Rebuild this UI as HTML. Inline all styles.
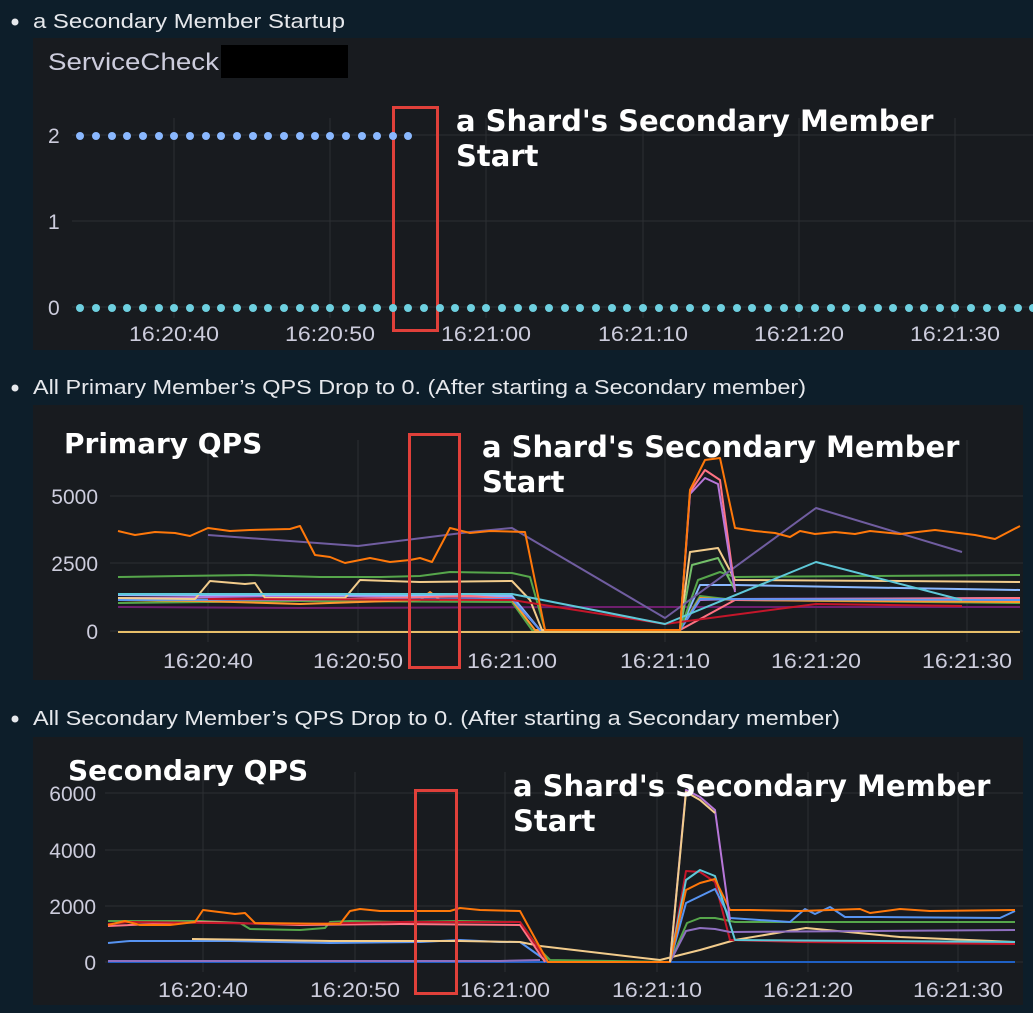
<!DOCTYPE html>
<html><head><meta charset="utf-8"><style>
html,body{margin:0;padding:0;background:#0d1e2a;width:1033px;height:1013px;overflow:hidden}
svg{display:block}
text{font-family:"Liberation Sans",sans-serif}
</style></head><body>
<svg width="1033" height="1013" viewBox="0 0 1033 1013" xmlns="http://www.w3.org/2000/svg">
<rect width="1033" height="1013" fill="#0d1e2a"/>
<g fill="#e6e8ec" font-size="20">
<circle cx="15" cy="22" r="3.5"/><text x="33" y="28" textLength="312" lengthAdjust="spacingAndGlyphs">a Secondary Member Startup</text>
<circle cx="15" cy="388" r="3.5"/><text x="33" y="394" textLength="773" lengthAdjust="spacingAndGlyphs">All Primary Member’s QPS Drop to 0. (After starting a Secondary member)</text>
<circle cx="15" cy="719" r="3.5"/><text x="33" y="725" textLength="807" lengthAdjust="spacingAndGlyphs">All Secondary Member’s QPS Drop to 0. (After starting a Secondary member)</text>
</g>

<!-- Panel 1 -->
<rect x="33" y="38" width="1000" height="312" fill="#181b1f"/>
<text x="48" y="70" fill="#ccccdc" font-size="24" textLength="171" lengthAdjust="spacingAndGlyphs">ServiceCheck</text>
<rect x="221" y="45" width="127" height="33" fill="#000"/>
<g stroke="#2c2f33" stroke-width="1">
<line x1="72" y1="135" x2="1033" y2="135"/><line x1="72" y1="221" x2="1033" y2="221"/><line x1="72" y1="307" x2="1033" y2="307"/>
<line x1="174" y1="118" x2="174" y2="318"/><line x1="330" y1="118" x2="330" y2="318"/><line x1="486" y1="118" x2="486" y2="318"/>
<line x1="643" y1="118" x2="643" y2="318"/><line x1="799" y1="118" x2="799" y2="318"/><line x1="955" y1="118" x2="955" y2="318"/>
</g>
<g fill="#ccccdc" font-size="21">
<text x="48" y="143">2</text><text x="48" y="229">1</text><text x="48" y="315">0</text>
<g text-anchor="middle"><text x="174" y="341" textLength="90" lengthAdjust="spacingAndGlyphs">16:20:40</text><text x="330" y="341" textLength="90" lengthAdjust="spacingAndGlyphs">16:20:50</text><text x="486" y="341" textLength="90" lengthAdjust="spacingAndGlyphs">16:21:00</text><text x="643" y="341" textLength="90" lengthAdjust="spacingAndGlyphs">16:21:10</text><text x="799" y="341" textLength="90" lengthAdjust="spacingAndGlyphs">16:21:20</text><text x="955" y="341" textLength="90" lengthAdjust="spacingAndGlyphs">16:21:30</text></g>
</g>
<rect x="393.5" y="107.5" width="44" height="223" fill="none" stroke="#e0403a" stroke-width="3"/>
<g fill="#fff" font-weight="bold" font-size="29">
<text x="456" y="131" style="font-family:'DejaVu Sans',sans-serif">a Shard's Secondary Member</text>
<text x="456" y="166" style="font-family:'DejaVu Sans',sans-serif">Start</text>
</g>

<!-- Panel 2 -->
<rect x="33" y="405" width="990" height="275" fill="#181b1f"/>
<g stroke="#2c2f33" stroke-width="1">
<line x1="110" y1="496" x2="1023" y2="496"/><line x1="110" y1="563" x2="1023" y2="563"/><line x1="110" y1="631" x2="1023" y2="631"/>
<line x1="208" y1="440" x2="208" y2="642"/><line x1="358" y1="440" x2="358" y2="642"/><line x1="512" y1="440" x2="512" y2="642"/>
<line x1="665" y1="440" x2="665" y2="642"/><line x1="816" y1="440" x2="816" y2="642"/><line x1="967" y1="440" x2="967" y2="642"/>
</g>
<g fill="#ccccdc" font-size="21" text-anchor="end">
<text x="98" y="504">5000</text><text x="98" y="571">2500</text><text x="98" y="639">0</text>
</g>
<g fill="#ccccdc" font-size="21" text-anchor="middle">
<text x="208" y="668" textLength="90" lengthAdjust="spacingAndGlyphs">16:20:40</text><text x="358" y="668" textLength="90" lengthAdjust="spacingAndGlyphs">16:20:50</text><text x="512" y="668" textLength="90" lengthAdjust="spacingAndGlyphs">16:21:00</text><text x="665" y="668" textLength="90" lengthAdjust="spacingAndGlyphs">16:21:10</text><text x="816" y="668" textLength="90" lengthAdjust="spacingAndGlyphs">16:21:20</text><text x="967" y="668" textLength="90" lengthAdjust="spacingAndGlyphs">16:21:30</text>
</g>
<g fill="none" stroke-width="2" stroke-linejoin="round">
<polyline stroke="#e8c06a" points="118,632 1020,632"/>
<polyline stroke="#6e1f6e" points="118,607 300,608 600,607 1020,607"/>
<polyline stroke="#56a64b" points="118,603 300,601 512,602 532,630 680,630 700,596 735,600 1020,603"/>
<polyline stroke="#ff9830" points="118,600 200,601 300,604 420,600 430,592 440,600 512,600 535,630 680,630 700,598 735,600 1020,602"/>
<polyline stroke="#b877d9" points="118,598 300,596 512,597 540,630 680,630 700,600 735,599 1020,598"/>
<polyline stroke="#8ab8ff" points="118,595 300,595 512,596 540,630 680,630 700,585 735,585 900,588 1020,590"/>
<polyline stroke="#ff7383" points="118,599 300,600 470,596 512,599 540,630 680,630 735,600 1020,598"/>
<polyline stroke="#5794f2" points="118,600 512,599 540,630 680,630 700,599 1020,600"/>
<polyline stroke="#56a64b" points="118,577 180,576 250,575 320,577 380,577 420,576 450,572 512,573 530,577 545,630 680,630 698,580 720,572 735,577 1020,575"/>
<polyline stroke="#f2cc8c" points="118,598 195,599 210,581 245,584 255,583 265,598 345,598 360,580 420,582 512,581 530,600 542,630 680,630 690,552 718,548 735,580 900,581 1020,582"/>
<polyline stroke="#73bf69" points="680,630 692,565 718,558 735,590"/>
<polyline stroke="#c4162a" points="208,599 512,600 665,624 816,604 962,606"/>
<polyline stroke="#5ec8d8" points="118,594 512,594 665,624 816,562 962,600"/>
<polyline stroke="#705da0" points="208,535 358,546 470,532 512,528 665,618 816,508 962,552"/>
<polyline stroke="#ff7383" points="680,630 690,492 705,470 720,480 735,590"/>
<polyline stroke="#b877d9" points="680,630 690,494 705,478 718,484 735,592"/>
<polyline stroke="#ff780a" points="118,531 135,535 155,532 175,533 190,536 208,528 230,531 250,530 290,529 300,526 315,555 330,557 345,563 370,558 390,562 410,560 420,558 432,562 450,528 470,533 490,531 525,532 545,630 680,630 690,490 705,460 720,458 735,528 755,531 775,533 790,537 800,531 815,534 835,532 855,534 870,531 900,534 935,530 975,535 995,539 1020,526"/>
</g>
<rect x="409.5" y="434.5" width="50" height="233" fill="none" stroke="#e0403a" stroke-width="3"/>
<g fill="#fff" font-weight="bold" font-size="29">
<text x="64" y="453" style="font-family:'DejaVu Sans',sans-serif" font-size="28">Primary QPS</text>
<text x="482" y="457" style="font-family:'DejaVu Sans',sans-serif">a Shard's Secondary Member</text>
<text x="482" y="492" style="font-family:'DejaVu Sans',sans-serif">Start</text>
</g>

<!-- Panel 3 -->
<rect x="33" y="737" width="990" height="268" fill="#181b1f"/>
<g stroke="#2c2f33" stroke-width="1">
<line x1="105" y1="793" x2="1023" y2="793"/><line x1="105" y1="850" x2="1023" y2="850"/><line x1="105" y1="906" x2="1023" y2="906"/><line x1="105" y1="962" x2="1023" y2="962"/>
<line x1="203" y1="772" x2="203" y2="972"/><line x1="355" y1="772" x2="355" y2="972"/><line x1="505" y1="772" x2="505" y2="972"/>
<line x1="657" y1="772" x2="657" y2="972"/><line x1="808" y1="772" x2="808" y2="972"/><line x1="958" y1="772" x2="958" y2="972"/>
</g>
<g fill="#ccccdc" font-size="21" text-anchor="end">
<text x="96" y="801">6000</text><text x="96" y="858">4000</text><text x="96" y="914">2000</text><text x="96" y="970">0</text>
</g>
<g fill="#ccccdc" font-size="21" text-anchor="middle">
<text x="203" y="997" textLength="90" lengthAdjust="spacingAndGlyphs">16:20:40</text><text x="355" y="997" textLength="90" lengthAdjust="spacingAndGlyphs">16:20:50</text><text x="505" y="997" textLength="90" lengthAdjust="spacingAndGlyphs">16:21:00</text><text x="657" y="997" textLength="90" lengthAdjust="spacingAndGlyphs">16:21:10</text><text x="808" y="997" textLength="90" lengthAdjust="spacingAndGlyphs">16:21:20</text><text x="958" y="997" textLength="90" lengthAdjust="spacingAndGlyphs">16:21:30</text>
</g>
<g fill="none" stroke-width="2" stroke-linejoin="round">
<polyline stroke="#1f60c4" points="108,962 1015,962"/>
<polyline stroke="#8f6fc0" points="108,961 500,961 540,960"/>
<polyline stroke="#5794f2" points="108,943 130,941 230,941 330,943 420,942 460,940 500,942 520,942 548,962 670,962"/>
<polyline stroke="#f2cc8c" points="192,939 330,941 460,941 520,942 540,946 660,960 700,950 735,940 806,928 900,937 1015,942"/>
<polyline stroke="#56a64b" points="108,921 200,921 240,923 250,929 300,930 325,928 330,922 350,921 400,922 460,921 520,922 540,950 550,960 670,962 687,923 700,918 715,918 735,922 1015,922"/>
<polyline stroke="#ff7383" points="108,926 200,922 300,925 400,924 520,925 545,962"/>
<polyline stroke="#c4162a" points="108,924 130,922 300,924 400,922 520,922 548,962 670,962 686,871 700,872 715,882 730,940 800,942 1015,944"/>
<polyline stroke="#8f6fc0" points="670,962 686,931 700,928 715,929 730,932 1015,930"/>
<polyline stroke="#5794f2" points="670,962 686,903 715,889 730,918 790,922 805,909 815,914 830,907 845,917 880,917 1000,918 1015,911"/>
<polyline stroke="#5ec8d8" points="670,962 686,880 700,870 715,876 735,940 1015,942"/>
<polyline stroke="#ff780a" points="108,925 125,921 140,925 170,925 195,922 203,910 235,914 245,913 255,923 340,924 350,911 360,909 380,911 420,911 450,911 460,908 480,910 520,911 548,962 670,962 686,890 700,883 715,879 730,910 750,910 800,911 830,910 860,909 870,913 900,909 930,911 1015,910"/>
<polyline stroke="#b877d9" points="670,962 686,790 700,797 715,810 730,920"/>
<polyline stroke="#f2cc8c" points="670,962 686,792 700,800 715,813"/>
</g>
<rect x="415.5" y="790.5" width="41" height="203" fill="none" stroke="#e0403a" stroke-width="3"/>
<g fill="#fff" font-weight="bold" font-size="29">
<text x="68" y="780" style="font-family:'DejaVu Sans',sans-serif" font-size="28">Secondary QPS</text>
<text x="513" y="796" style="font-family:'DejaVu Sans',sans-serif">a Shard's Secondary Member</text>
<text x="513" y="831" style="font-family:'DejaVu Sans',sans-serif">Start</text>
</g>

<g fill="#8ab8ff">
<circle cx="80" cy="136" r="4"/><circle cx="96" cy="136" r="4"/><circle cx="112" cy="136" r="4"/><circle cx="127" cy="136" r="4"/><circle cx="143" cy="136" r="4"/><circle cx="159" cy="136" r="4"/><circle cx="174" cy="136" r="4"/><circle cx="190" cy="136" r="4"/><circle cx="206" cy="136" r="4"/><circle cx="221" cy="136" r="4"/><circle cx="237" cy="136" r="4"/><circle cx="253" cy="136" r="4"/><circle cx="268" cy="136" r="4"/><circle cx="284" cy="136" r="4"/><circle cx="300" cy="136" r="4"/><circle cx="315" cy="136" r="4"/><circle cx="330" cy="136" r="4"/><circle cx="346" cy="136" r="4"/><circle cx="362" cy="136" r="4"/><circle cx="377" cy="136" r="4"/><circle cx="393" cy="136" r="4"/><circle cx="408" cy="136" r="4"/>
</g>
<g fill="#6ed0e0">
<circle cx="80" cy="308" r="4"/><circle cx="96" cy="308" r="4"/><circle cx="112" cy="308" r="4"/><circle cx="127" cy="308" r="4"/><circle cx="143" cy="308" r="4"/><circle cx="159" cy="308" r="4"/><circle cx="174" cy="308" r="4"/><circle cx="190" cy="308" r="4"/><circle cx="206" cy="308" r="4"/><circle cx="221" cy="308" r="4"/><circle cx="237" cy="308" r="4"/><circle cx="253" cy="308" r="4"/><circle cx="268" cy="308" r="4"/><circle cx="284" cy="308" r="4"/><circle cx="300" cy="308" r="4"/><circle cx="315" cy="308" r="4"/><circle cx="330" cy="308" r="4"/><circle cx="346" cy="308" r="4"/><circle cx="362" cy="308" r="4"/><circle cx="377" cy="308" r="4"/><circle cx="393" cy="308" r="4"/><circle cx="408" cy="308" r="4"/><circle cx="424" cy="308" r="4"/><circle cx="440" cy="308" r="4"/><circle cx="455" cy="308" r="4"/><circle cx="471" cy="308" r="4"/><circle cx="486" cy="308" r="4"/><circle cx="502" cy="308" r="4"/><circle cx="518" cy="308" r="4"/><circle cx="533" cy="308" r="4"/><circle cx="549" cy="308" r="4"/><circle cx="565" cy="308" r="4"/><circle cx="580" cy="308" r="4"/><circle cx="596" cy="308" r="4"/><circle cx="612" cy="308" r="4"/><circle cx="627" cy="308" r="4"/><circle cx="643" cy="308" r="4"/><circle cx="659" cy="308" r="4"/><circle cx="674" cy="308" r="4"/><circle cx="690" cy="308" r="4"/><circle cx="706" cy="308" r="4"/><circle cx="721" cy="308" r="4"/><circle cx="737" cy="308" r="4"/><circle cx="752" cy="308" r="4"/><circle cx="768" cy="308" r="4"/><circle cx="784" cy="308" r="4"/><circle cx="799" cy="308" r="4"/><circle cx="815" cy="308" r="4"/><circle cx="831" cy="308" r="4"/><circle cx="846" cy="308" r="4"/><circle cx="862" cy="308" r="4"/><circle cx="878" cy="308" r="4"/><circle cx="893" cy="308" r="4"/><circle cx="909" cy="308" r="4"/><circle cx="924" cy="308" r="4"/><circle cx="940" cy="308" r="4"/><circle cx="955" cy="308" r="4"/><circle cx="971" cy="308" r="4"/><circle cx="987" cy="308" r="4"/><circle cx="1002" cy="308" r="4"/><circle cx="1018" cy="308" r="4"/><circle cx="1033" cy="308" r="4"/>
</g>
</svg>
</body></html>
